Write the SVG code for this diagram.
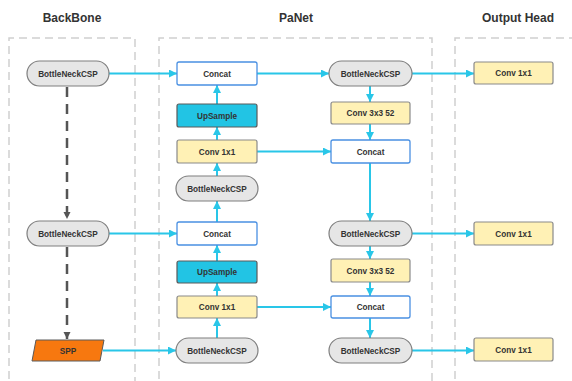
<svg xmlns="http://www.w3.org/2000/svg" width="572" height="381" viewBox="0 0 572 381">
  <style>
    .title { font-family: "Liberation Sans", Arial, sans-serif; font-weight: bold; font-size: 12px; fill: #333333; text-anchor: middle; }
    .lbl { font-family: "Liberation Sans", Arial, sans-serif; font-weight: bold; font-size: 8.2px; fill: #333333; text-anchor: middle; }
    .section { fill: none; stroke: #cfcfcf; stroke-width: 1.5; stroke-dasharray: 8 5; }
    .csp { fill: #e6e6e6; stroke: #7f7f7f; stroke-width: 1.2; }
    .concat { fill: #ffffff; stroke: #4a90e2; stroke-width: 1.3; }
    .up { fill: #22c4e4; stroke: #5a5a5a; stroke-width: 1.2; }
    .conv { fill: #fff1b5; stroke: #8a8a8a; stroke-width: 1.2; }
    .spp { fill: #f7780f; stroke: #5a5a5a; stroke-width: 1; }
    .flow { fill: none; stroke: #29c6e8; stroke-width: 2; marker-end: url(#ah); }
    .skip { fill: none; stroke: #555555; stroke-width: 2.5; stroke-dasharray: 10 7; marker-end: url(#ahd); }
  </style>
  <defs>
    <marker id="ah" viewBox="0 0 10 10" refX="10" refY="5" markerWidth="4" markerHeight="4" orient="auto" markerUnits="strokeWidth">
      <path d="M0,0 L10,5 L0,10 z" fill="#29c6e8"/>
    </marker>
    <marker id="ahd" viewBox="0 0 10 10" refX="10" refY="5" markerWidth="3" markerHeight="3" orient="auto" markerUnits="strokeWidth">
      <path d="M0,0 L10,5 L0,10 z" fill="#555555"/>
    </marker>
  </defs>

  <rect width="572" height="381" fill="#ffffff"/>

  <!-- section frames -->
  <g id="sections">
    <text class="title" x="72" y="22">BackBone</text>
    <text class="title" x="296" y="22">PaNet</text>
    <text class="title" x="518" y="22">Output Head</text>
    <path class="section" d="M9,392 V38 H135 V392"/>
    <path class="section" d="M159,392 V38 H432 V392"/>
    <path class="section" d="M455,392 V38 H572"/>
  </g>

  <!-- connectors -->
  <g id="connectors">
    <line class="skip" x1="67" y1="87" x2="67" y2="219"/>
    <line class="skip" x1="67" y1="247" x2="67" y2="339"/>

    <line class="flow" x1="109" y1="73.5" x2="177" y2="73.5"/>
    <line class="flow" x1="257" y1="73.5" x2="329" y2="73.5"/>
    <line class="flow" x1="412" y1="73.5" x2="474" y2="73.5"/>
    <line class="flow" x1="370" y1="86" x2="370" y2="102"/>
    <line class="flow" x1="217" y1="104" x2="217" y2="85"/>
    <line class="flow" x1="217" y1="140" x2="217" y2="127"/>
    <line class="flow" x1="257" y1="151.5" x2="331" y2="151.5"/>
    <line class="flow" x1="370" y1="124" x2="370" y2="140"/>
    <line class="flow" x1="217" y1="176" x2="217" y2="163"/>
    <line class="flow" x1="217" y1="222" x2="217" y2="201"/>
    <line class="flow" x1="370" y1="163" x2="370" y2="221"/>

    <line class="flow" x1="109" y1="233.5" x2="177" y2="233.5"/>
    <line class="flow" x1="412" y1="233.5" x2="474" y2="233.5"/>
    <line class="flow" x1="370" y1="246" x2="370" y2="259"/>
    <line class="flow" x1="217" y1="261" x2="217" y2="245"/>
    <line class="flow" x1="217" y1="296" x2="217" y2="283"/>
    <line class="flow" x1="257" y1="307" x2="331" y2="307"/>
    <line class="flow" x1="370" y1="282" x2="370" y2="296"/>
    <line class="flow" x1="217" y1="338" x2="217" y2="318"/>
    <line class="flow" x1="370" y1="318" x2="370" y2="338"/>

    <line class="flow" x1="103" y1="350.5" x2="176" y2="350.5"/>
    <line class="flow" x1="412" y1="350.5" x2="474" y2="350.5"/>
  </g>

  <!-- BackBone -->
  <g id="bb-csp1">
    <rect class="csp" x="27" y="61" width="82" height="25" rx="12.5"/>
    <text class="lbl" x="68" y="76.5">BottleNeckCSP</text>
  </g>
  <g id="bb-csp2">
    <rect class="csp" x="27" y="221" width="82" height="25" rx="12.5"/>
    <text class="lbl" x="68" y="236.5">BottleNeckCSP</text>
  </g>
  <g id="bb-spp">
    <polygon class="spp" points="36,340 104,340 100,361 32,361"/>
    <text class="lbl" x="68" y="353.5">SPP</text>
  </g>

  <!-- PaNet, top-down path -->
  <g id="pa-concat1">
    <rect class="concat" x="177" y="62" width="80" height="23" rx="2"/>
    <text class="lbl" x="217" y="76.5">Concat</text>
  </g>
  <g id="pa-up1">
    <rect class="up" x="177" y="104" width="80" height="23" rx="2"/>
    <text class="lbl" x="217" y="118.5">UpSample</text>
  </g>
  <g id="pa-conv1">
    <rect class="conv" x="177" y="140" width="80" height="23" rx="2"/>
    <text class="lbl" x="217" y="154.5">Conv 1x1</text>
  </g>
  <g id="pa-csp1">
    <rect class="csp" x="176" y="176" width="82" height="25" rx="12.5"/>
    <text class="lbl" x="217" y="191.5">BottleNeckCSP</text>
  </g>
  <g id="pa-concat2">
    <rect class="concat" x="177" y="222" width="80" height="23" rx="2"/>
    <text class="lbl" x="217" y="236.5">Concat</text>
  </g>
  <g id="pa-up2">
    <rect class="up" x="177" y="261" width="80" height="22" rx="2"/>
    <text class="lbl" x="217" y="275">UpSample</text>
  </g>
  <g id="pa-conv2">
    <rect class="conv" x="177" y="296" width="80" height="22" rx="2"/>
    <text class="lbl" x="217" y="310">Conv 1x1</text>
  </g>
  <g id="pa-csp2">
    <rect class="csp" x="176" y="338" width="82" height="25" rx="12.5"/>
    <text class="lbl" x="217" y="353.5">BottleNeckCSP</text>
  </g>

  <!-- PaNet, bottom-up path -->
  <g id="pb-csp1">
    <rect class="csp" x="329" y="61" width="83" height="25" rx="12.5"/>
    <text class="lbl" x="370.5" y="76.5">BottleNeckCSP</text>
  </g>
  <g id="pb-conv1">
    <rect class="conv" x="331" y="102" width="79" height="22" rx="2"/>
    <text class="lbl" x="370.5" y="116">Conv 3x3 52</text>
  </g>
  <g id="pb-concat1">
    <rect class="concat" x="331" y="140" width="79" height="23" rx="2"/>
    <text class="lbl" x="370.5" y="154.5">Concat</text>
  </g>
  <g id="pb-csp2">
    <rect class="csp" x="329" y="221" width="83" height="25" rx="12.5"/>
    <text class="lbl" x="370.5" y="236.5">BottleNeckCSP</text>
  </g>
  <g id="pb-conv2">
    <rect class="conv" x="331" y="259" width="79" height="23" rx="2"/>
    <text class="lbl" x="370.5" y="273.5">Conv 3x3 52</text>
  </g>
  <g id="pb-concat2">
    <rect class="concat" x="331" y="296" width="79" height="22" rx="2"/>
    <text class="lbl" x="370.5" y="310">Concat</text>
  </g>
  <g id="pb-csp3">
    <rect class="csp" x="329" y="338" width="83" height="25" rx="12.5"/>
    <text class="lbl" x="370.5" y="353.5">BottleNeckCSP</text>
  </g>

  <!-- Output Head -->
  <g id="head1">
    <rect class="conv" x="474" y="62" width="79" height="22" rx="2"/>
    <text class="lbl" x="513.5" y="76">Conv 1x1</text>
  </g>
  <g id="head2">
    <rect class="conv" x="474" y="222" width="79" height="23" rx="2"/>
    <text class="lbl" x="513.5" y="236.5">Conv 1x1</text>
  </g>
  <g id="head3">
    <rect class="conv" x="474" y="338" width="79" height="23" rx="2"/>
    <text class="lbl" x="513.5" y="352.5">Conv 1x1</text>
  </g>
</svg>
